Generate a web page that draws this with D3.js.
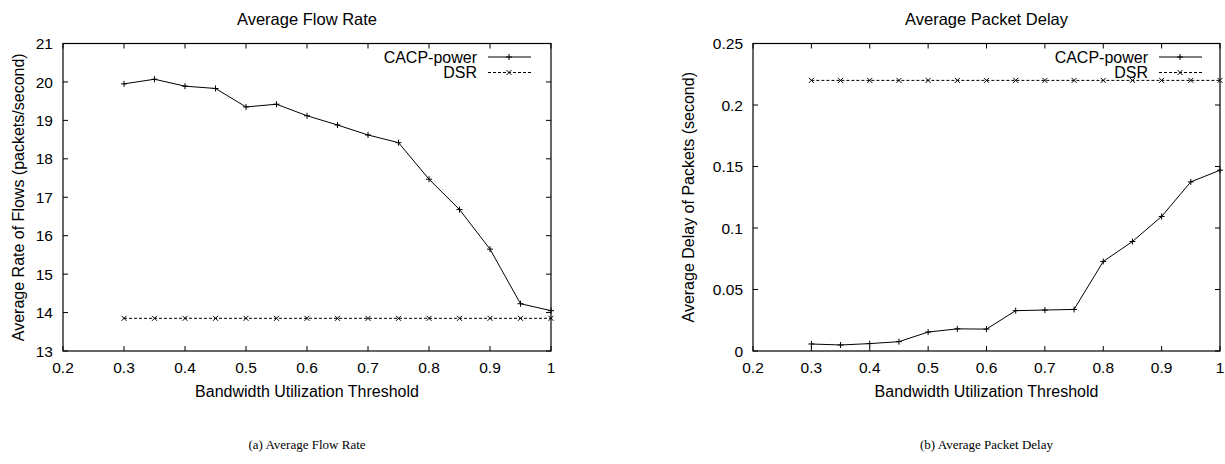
<!DOCTYPE html>
<html>
<head>
<meta charset="utf-8">
<script src="https://cdn.jsdelivr.net/npm/d3@7"></script>
<style>
  body { margin: 0; background: #fff; }
  text { font-family: "Liberation Sans", Arial, sans-serif; fill: #000; }
  .caption { font-family: "Liberation Serif", "Times New Roman", serif; }
</style>
</head>
<body>
<div id="chart"></div>
<script>
// thresholds on x axis
const thresholds = [0.3, 0.35, 0.4, 0.45, 0.5, 0.55, 0.6, 0.65, 0.7, 0.75, 0.8, 0.85, 0.9, 0.95, 1.0];

// (a) average flow rate, packets/second
const rateCacp = [19.95, 20.07, 19.89, 19.83, 19.35, 19.42, 19.12, 18.88, 18.62, 18.42, 17.47, 16.68, 15.65, 14.23, 14.05];
const rateDsr  = [13.85, 13.85, 13.85, 13.85, 13.85, 13.85, 13.85, 13.85, 13.85, 13.85, 13.85, 13.85, 13.85, 13.85, 13.85];

// (b) average packet delay, seconds
const delayCacp = [0.0057, 0.0049, 0.006, 0.0076, 0.0154, 0.018, 0.0178, 0.0328, 0.0333, 0.0338, 0.0728, 0.089, 0.1094, 0.1375, 0.147];
const delayDsr  = [0.22, 0.22, 0.22, 0.22, 0.22, 0.22, 0.22, 0.22, 0.22, 0.22, 0.22, 0.22, 0.22, 0.22, 0.22];

const xTicks = [0.2, 0.3, 0.4, 0.5, 0.6, 0.7, 0.8, 0.9, 1];
const rateTicks = [13, 14, 15, 16, 17, 18, 19, 20, 21];
const delayTicks = [0, 0.05, 0.1, 0.15, 0.2, 0.25];

const svg = d3.select('#chart')
  .append('svg')
  .attr('width', 1225)
  .attr('height', 464);

function plus(g, x, y) {
  g.append('path').attr('d', `M${x-3},${y}H${x+3}M${x},${y-3}V${y+3}`)
    .attr('stroke', '#000').attr('stroke-width', 1);
}
function cross(g, x, y) {
  g.append('path').attr('d', `M${x-2.5},${y-2.5}L${x+2.5},${y+2.5}M${x-2.5},${y+2.5}L${x+2.5},${y-2.5}`)
    .attr('stroke', '#000').attr('stroke-width', 1);
}

function panel(opt) {
  const {left, right, top, bottom} = opt;
  const g = svg.append('g');

  const x = d3.scaleLinear().domain([0.2, 1]).range([left, right]);
  const y = d3.scaleLinear().domain(opt.yDomain).range([bottom, top]);

  // title
  g.append('text').attr('x', (left + right) / 2).attr('y', 25)
    .attr('text-anchor', 'middle').attr('font-size', 16.5).text(opt.title);

  // ticks, mirrored on all sides, pointing inward
  const tl = 5;
  xTicks.forEach(t => {
    g.append('line').attr('x1', x(t)).attr('x2', x(t)).attr('y1', bottom).attr('y2', bottom - tl)
      .attr('stroke', '#000');
    g.append('line').attr('x1', x(t)).attr('x2', x(t)).attr('y1', top).attr('y2', top + tl)
      .attr('stroke', '#000');
    g.append('text').attr('x', x(t)).attr('y', bottom + 22)
      .attr('text-anchor', 'middle').attr('font-size', 15.5).text(t);
  });
  opt.yTicks.forEach(t => {
    g.append('line').attr('x1', left).attr('x2', left + tl).attr('y1', y(t)).attr('y2', y(t))
      .attr('stroke', '#000');
    g.append('line').attr('x1', right).attr('x2', right - tl).attr('y1', y(t)).attr('y2', y(t))
      .attr('stroke', '#000');
    g.append('text').attr('x', left - 10).attr('y', y(t)).attr('dy', '0.36em')
      .attr('text-anchor', 'end').attr('font-size', 15.5).text(t);
  });

  // border
  g.append('rect').attr('x', left).attr('y', top)
    .attr('width', right - left).attr('height', bottom - top)
    .attr('fill', 'none').attr('stroke', '#000').attr('stroke-width', 1.2);

  // axis labels
  g.append('text').attr('x', (left + right) / 2).attr('y', bottom + 46)
    .attr('text-anchor', 'middle').attr('font-size', 16).text('Bandwidth Utilization Threshold');
  g.append('text')
    .attr('transform', `translate(${opt.yLabelX},${(top + bottom) / 2}) rotate(-90)`)
    .attr('text-anchor', 'middle').attr('font-size', 16).text(opt.yLabel);

  const line = d3.line().x((d, i) => x(thresholds[i])).y(d => y(d));

  g.append('path').datum(opt.dsr).attr('d', line)
    .attr('fill', 'none').attr('stroke', '#000').attr('stroke-width', 1)
    .attr('stroke-dasharray', '3,2');
  opt.dsr.forEach((d, i) => cross(g, x(thresholds[i]), y(d)));

  g.append('path').datum(opt.cacp).attr('d', line)
    .attr('fill', 'none').attr('stroke', '#000').attr('stroke-width', 1);
  opt.cacp.forEach((d, i) => plus(g, x(thresholds[i]), y(d)));

  // legend
  const lx = opt.legendX;
  [['CACP-power', null, plus], ['DSR', '3,2', cross]].forEach(([name, dash, mark], i) => {
    const ly = 57 + i * 15.5;
    g.append('text').attr('x', lx).attr('y', ly).attr('dy', '0.36em')
      .attr('text-anchor', 'end').attr('font-size', 16).text(name);
    g.append('line').attr('x1', lx + 11).attr('x2', lx + 54).attr('y1', ly).attr('y2', ly)
      .attr('stroke', '#000').attr('stroke-dasharray', dash);
    mark(g, lx + 32, ly);
  });

  // caption
  svg.append('text').attr('class', 'caption').attr('x', (left + right) / 2).attr('y', 449)
    .attr('text-anchor', 'middle').attr('font-size', 13).text(opt.caption);
}

panel({
  left: 63, right: 551, top: 43.5, bottom: 351,
  yDomain: [13, 21], yTicks: rateTicks,
  title: 'Average Flow Rate',
  yLabel: 'Average Rate of Flows (packets/second)', yLabelX: 24,
  cacp: rateCacp, dsr: rateDsr,
  legendX: 477,
  caption: '(a) Average Flow Rate'
});

panel({
  left: 753, right: 1220, top: 43.5, bottom: 351,
  yDomain: [0, 0.25], yTicks: delayTicks,
  title: 'Average Packet Delay',
  yLabel: 'Average Delay of Packets (second)', yLabelX: 693.5,
  cacp: delayCacp, dsr: delayDsr,
  legendX: 1148,
  caption: '(b) Average Packet Delay'
});
</script>
</body>
</html>
